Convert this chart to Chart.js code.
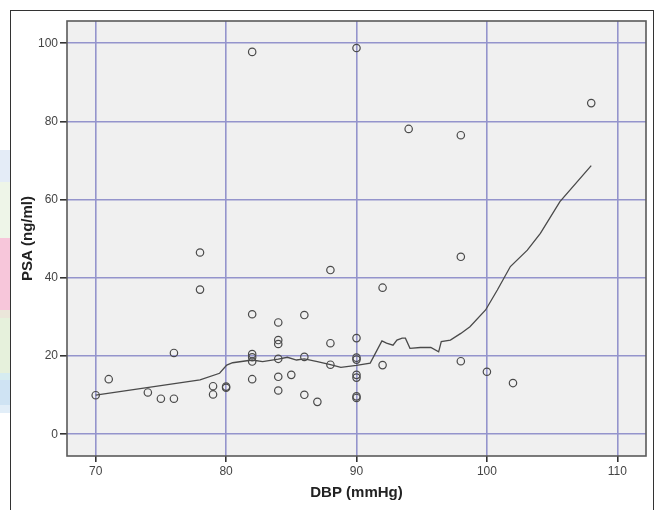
<!DOCTYPE html>
<html>
<head>
<meta charset="utf-8">
<script src="https://cdn.jsdelivr.net/npm/chart.js@4"></script>
<style>
  html, body { margin: 0; padding: 0; background: #fff; }
  #wrap { position: relative; width: 657px; height: 510px; overflow: hidden; }
  #frame { position: absolute; left: 10px; top: 10px; width: 644px; height: 520px; border: 1px solid #333; box-sizing: border-box; }
  #strip { position: absolute; left: 0; top: 150px; width: 10px; }
  #strip div { width: 10px; }
  canvas { position: absolute; left: 0; top: 0; }
</style>
</head>
<body>
<div id="wrap">
  <div id="strip">
    <div style="height:32px;background:#e4ecf7"></div>
    <div style="height:56px;background:#eef5e8"></div>
    <div style="height:72px;background:#f7c6da"></div>
    <div style="height:8px;background:#ebe6da"></div>
    <div style="height:55px;background:#e6f1dc"></div>
    <div style="height:7px;background:#d6ecf0"></div>
    <div style="height:25px;background:#cfe3f3"></div>
    <div style="height:8px;background:#e2eef8"></div>
  </div>
  <div id="frame"></div>
  <canvas id="chart" width="657" height="510"></canvas>
</div>
<script>
// observed points
const dbp = [70, 71, 74, 75, 76, 76, 78, 78, 79, 79, 80, 80,
  82, 82, 82, 82, 82, 82, 84, 84, 84, 84, 84, 84, 85, 86, 86, 86, 87,
  88, 88, 88, 90, 90, 90, 90, 90, 90, 90, 90, 92, 92, 94, 98, 98, 98,
  100, 102, 108];
const psa = [10.0, 14.1, 10.7, 9.1, 9.1, 20.8, 46.5, 37.0, 12.3, 10.2, 11.9, 12.2,
  97.8, 30.7, 20.5, 19.7, 18.6, 14.1, 28.6, 24.1, 23.1, 19.3, 14.7, 11.2, 15.2,
  30.5, 19.8, 10.1, 8.3, 42.0, 23.3, 17.8, 98.8, 24.6, 19.6, 19.1, 15.2, 14.5,
  9.7, 9.3, 37.5, 17.7, 78.1, 76.5, 45.4, 18.7, 16.0, 13.1, 84.7];

// fit line
const fitX = [70, 78.0, 79.5, 80.05, 80.5, 82.0, 82.8, 84.0, 84.7, 85.4, 86.0, 87.0,
  88.0, 88.8, 90.0, 91.05, 91.95, 92.3, 92.8, 93.1, 93.5, 93.75, 94.1, 94.9, 95.7,
  96.3, 96.5, 97.2, 98.0, 98.7, 99.9, 100.8, 101.8, 103.1, 104.1, 105.6, 108.0];
const fitY = [10.0, 13.9, 15.6, 17.7, 18.3, 19.0, 18.6, 19.2, 19.7, 19.0, 19.3, 18.6,
  17.8, 17.1, 17.6, 18.2, 23.9, 23.3, 22.8, 24.1, 24.6, 24.6, 22.0, 22.2, 22.2,
  21.1, 23.7, 24.1, 25.8, 27.5, 31.8, 36.9, 42.9, 47.1, 51.4, 59.5, 68.7];

const xTicks = [70, 80, 90, 100, 110];
const yTicks = [0, 20, 40, 60, 80, 100];

const GRID = '#9494cc';
const INK = '#4a4a4a';

const plotBox = {
  id: 'plotBox',
  beforeDraw(chart) {
    const a = chart.chartArea, c = chart.ctx;
    c.save();
    c.fillStyle = '#f0f0f0';
    c.fillRect(a.left, a.top, a.right - a.left, a.bottom - a.top);
    c.restore();
  },
  afterDraw(chart) {
    const a = chart.chartArea, c = chart.ctx;
    c.save();
    c.strokeStyle = '#5a5a5a';
    c.lineWidth = 1.6;
    c.strokeRect(a.left, a.top, a.right - a.left, a.bottom - a.top);
    c.restore();
  }
};

new Chart(document.getElementById('chart'), {
  type: 'scatter',
  data: {
    datasets: [
      {
        data: dbp.map((x, i) => ({ x, y: psa[i] })),
        pointStyle: 'circle',
        pointRadius: 3.7,
        pointBorderWidth: 1.2,
        pointBorderColor: INK,
        pointBackgroundColor: 'rgba(0,0,0,0)',
        showLine: false
      },
      {
        data: fitX.map((x, i) => ({ x, y: fitY[i] })),
        showLine: true,
        borderColor: INK,
        borderWidth: 1.3,
        pointRadius: 0,
        tension: 0,
        fill: false
      }
    ]
  },
  options: {
    responsive: false,
    animation: false,
    layout: { padding: { top: 21, right: 11, left: 0, bottom: 0 } },
    plugins: { legend: { display: false }, tooltip: { enabled: false } },
    scales: {
      x: {
        type: 'linear',
        min: 67.8, max: 112.2,
        afterFit(s) { s.height = 54; },
        afterBuildTicks(s) { s.ticks = xTicks.map(v => ({ value: v })); },
        ticks: { color: '#444', padding: 2, font: { family: 'Liberation Sans', size: 12 } },
        grid: { color: GRID, lineWidth: 1.6, tickColor: '#333', tickLength: 6 },
        border: { display: false },
        title: {
          display: true, text: 'DBP (mmHg)', color: '#222',
          font: { family: 'Liberation Sans', size: 15, weight: 'bold' },
          padding: { top: 0, bottom: 8 }
        }
      },
      y: {
        type: 'linear',
        min: -5.55, max: 105.7,
        afterFit(s) { s.width = 67; },
        afterBuildTicks(s) { s.ticks = yTicks.map(v => ({ value: v })); },
        ticks: { color: '#444', padding: 2, font: { family: 'Liberation Sans', size: 12 } },
        grid: { color: GRID, lineWidth: 1.6, tickColor: '#333', tickLength: 7 },
        border: { display: false },
        title: {
          display: true, text: 'PSA (ng/ml)', color: '#222',
          font: { family: 'Liberation Sans', size: 15, weight: 'bold' },
          padding: { top: 19, bottom: 0 }
        }
      }
    }
  },
  plugins: [plotBox]
});
</script>
</body>
</html>
